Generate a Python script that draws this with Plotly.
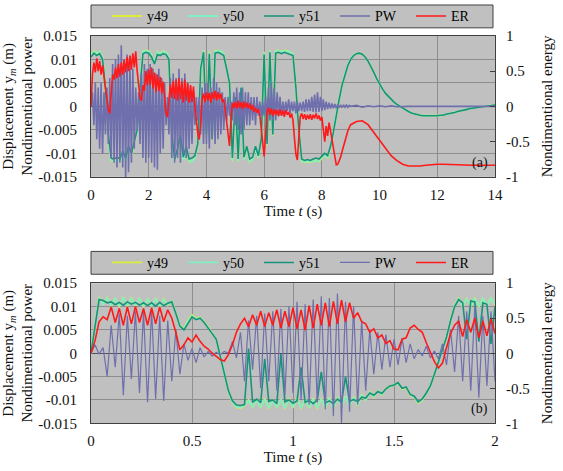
import numpy as np
import plotly.graph_objects as go

# ---------------- data : panel (a) ----------------
t_a = np.round(np.arange(0, 14.0001, 0.1), 2)                      # grid for y49/y50/y51
t_a_pw = np.round(np.concatenate([np.arange(0, 9.0001, 0.05),
                                  np.arange(9.2, 14.0001, 0.2)]), 2)  # grid for PW / ER

y51_a = [0.0105, 0.0113, 0.0108, 0.0112, 0.0100, 0.0040, -0.0060, -0.0110, -0.0112, -0.0108,
         -0.0112, -0.0095, -0.0110, -0.0085, -0.0100, -0.0075, -0.0050, 0.0040, 0.0112, 0.0115,
         0.0113, 0.0105, 0.0090, 0.0110, 0.0108, 0.0112, 0.0110, 0.0100, -0.0060, -0.0112,
         -0.0090, -0.0060, -0.0108, -0.0085, -0.0112, -0.0110, -0.0105, -0.0080, 0.0080, 0.0115,
         -0.0060, 0.0112, -0.0070, 0.0113, 0.0115, 0.0112, 0.0108, 0.0080, 0.0050, -0.0110,
         0.0020, -0.0112, 0.0040, -0.0108, -0.0085, -0.0112, -0.0108, -0.0085, -0.0105, -0.0070,
         0.0110, -0.0080, 0.0115, -0.0060, 0.0113, 0.0115, 0.0112, 0.0115, 0.0113, 0.0110,
         0.0108, 0.0040, -0.0050, -0.0112, -0.0115, -0.0113, -0.0115, -0.0112, -0.0110, -0.0112,
         -0.0105, -0.0100, -0.0105, -0.0085, -0.0055, -0.0015, 0.0015, 0.0045, 0.0068, 0.0087,
         0.0100, 0.0108, 0.0112, 0.0113, 0.0111, 0.0105, 0.0096, 0.0085, 0.0072, 0.0059,
         0.0047, 0.0037, 0.0028, 0.0021, 0.0015, 0.0009, 0.0004, 0.0000, -0.0004, -0.0008,
         -0.0011, -0.0014, -0.0016, -0.0018, -0.0019, -0.0020, -0.0020, -0.0021, -0.0021, -0.0021,
         -0.0020, -0.0019, -0.0019, -0.0017, -0.0016, -0.0014, -0.0013, -0.0011, -0.0010, -0.0008,
         -0.0007, -0.0005, -0.0004, -0.0003, -0.0002, -0.0001, 0.0000, 0.0001, 0.0002, 0.0002,
         0.0003]

y49_a = [0.0110, 0.0118, 0.0112, 0.0117, 0.0104, 0.0040, -0.0062, -0.0116, -0.0118, -0.0113,
         -0.0118, -0.0098, -0.0115, -0.0088, -0.0104, -0.0078, -0.0052, 0.0042, 0.0117, 0.0119,
         0.0118, 0.0109, 0.0093, 0.0116, 0.0112, 0.0117, 0.0115, 0.0104, -0.0062, -0.0118,
         -0.0093, -0.0062, -0.0114, -0.0088, -0.0118, -0.0116, -0.0110, -0.0083, 0.0082, 0.0119,
         -0.0062, 0.0117, -0.0072, 0.0118, 0.0119, 0.0117, 0.0112, 0.0082, 0.0052, -0.0116,
         0.0021, -0.0118, 0.0041, -0.0113, -0.0088, -0.0118, -0.0113, -0.0088, -0.0110, -0.0072,
         0.0116, -0.0082, 0.0119, -0.0062, 0.0118, 0.0119, 0.0117, 0.0119, 0.0118, 0.0115,
         0.0112, 0.0041, -0.0052, -0.0117, -0.0119, -0.0118, -0.0119, -0.0117, -0.0115, -0.0117,
         -0.0110, -0.0104, -0.0109, -0.0088, -0.0057, -0.0016, 0.0015, 0.0046, 0.0069, 0.0088,
         0.0100, 0.0108, 0.0112, 0.0113, 0.0111, 0.0105, 0.0096, 0.0085, 0.0072, 0.0059,
         0.0047, 0.0037, 0.0028, 0.0021, 0.0015, 0.0009, 0.0004, 0.0000, -0.0004, -0.0008,
         -0.0011, -0.0014, -0.0016, -0.0018, -0.0019, -0.0020, -0.0020, -0.0021, -0.0021, -0.0021,
         -0.0020, -0.0019, -0.0019, -0.0017, -0.0016, -0.0014, -0.0013, -0.0011, -0.0010, -0.0008,
         -0.0007, -0.0005, -0.0004, -0.0003, -0.0002, -0.0001, 0.0000, 0.0001, 0.0002, 0.0002,
         0.0003]

y50_a = [0.0108, 0.0117, 0.0114, 0.0116, 0.0103, 0.0041, -0.0061, -0.0115, -0.0117, -0.0115,
         -0.0117, -0.0097, -0.0116, -0.0087, -0.0103, -0.0077, -0.0051, 0.0041, 0.0116, 0.0118,
         0.0117, 0.0110, 0.0092, 0.0115, 0.0113, 0.0116, 0.0116, 0.0103, -0.0061, -0.0117,
         -0.0092, -0.0061, -0.0115, -0.0087, -0.0117, -0.0117, -0.0109, -0.0082, 0.0081, 0.0118,
         -0.0061, 0.0116, -0.0071, 0.0117, 0.0118, 0.0118, 0.0111, 0.0081, 0.0051, -0.0115,
         0.0020, -0.0117, 0.0040, -0.0114, -0.0087, -0.0117, -0.0114, -0.0087, -0.0109, -0.0071,
         0.0115, -0.0081, 0.0118, -0.0061, 0.0117, 0.0118, 0.0118, 0.0118, 0.0117, 0.0116,
         0.0111, 0.0040, -0.0051, -0.0116, -0.0118, -0.0117, -0.0118, -0.0118, -0.0116, -0.0116,
         -0.0109, -0.0103, -0.0108, -0.0087, -0.0056, -0.0015, 0.0015, 0.0045, 0.0068, 0.0087,
         0.0100, 0.0108, 0.0112, 0.0113, 0.0111, 0.0105, 0.0096, 0.0085, 0.0072, 0.0059,
         0.0047, 0.0037, 0.0028, 0.0021, 0.0015, 0.0009, 0.0004, 0.0000, -0.0004, -0.0008,
         -0.0011, -0.0014, -0.0016, -0.0018, -0.0019, -0.0020, -0.0020, -0.0021, -0.0021, -0.0021,
         -0.0020, -0.0019, -0.0019, -0.0017, -0.0016, -0.0014, -0.0013, -0.0011, -0.0010, -0.0008,
         -0.0007, -0.0005, -0.0004, -0.0003, -0.0002, -0.0001, 0.0000, 0.0001, 0.0002, 0.0002,
         0.0003]

pw_a = [0.0, 0.003, -0.004, 0.005, -0.007, 0.004, -0.009, 0.005, -0.010, 0.003,
        -0.006, 0.004, -0.008, 0.006, -0.011, 0.009, -0.012, 0.010, -0.013, 0.011,
        -0.012, 0.013, -0.013, 0.010, -0.015, 0.011, -0.014, 0.009, -0.012, 0.008,
        -0.009, 0.004, -0.005, 0.003, -0.008, 0.007, -0.011, 0.009, -0.012, 0.008,
        -0.011, 0.009, -0.012, 0.008, -0.013, 0.007, -0.0135, 0.008, -0.010, 0.006,
        -0.009, 0.005, -0.004, 0.002, -0.006, 0.006, -0.011, 0.007, -0.012, 0.006,
        -0.011, 0.008, -0.012, 0.006, -0.010, 0.007, -0.011, 0.005, -0.009, 0.004,
        -0.008, 0.003, -0.004, 0.002, -0.003, 0.002, -0.006, 0.004, -0.008, 0.005,
        -0.008, 0.005, -0.009, 0.004, -0.007, 0.006, -0.008, 0.005, -0.007, 0.004,
        -0.006, 0.003, -0.005, 0.002, -0.003, 0.002, -0.002, 0.001, -0.003, 0.003,
        -0.004, 0.004, -0.005, 0.003, -0.006, 0.004, -0.005, 0.003, -0.004, 0.003,
        -0.004, 0.002, -0.003, 0.002, -0.004, 0.002, -0.002, 0.001, -0.002, 0.001,
        -0.002, 0.002, -0.003, 0.004, -0.003, 0.005, -0.003, 0.004, -0.003, 0.003,
        -0.002, 0.002, -0.002, 0.001, -0.0015, 0.001, -0.001, 0.0015, -0.0015, 0.001,
        -0.001, 0.001, -0.0015, 0.001, -0.001, 0.0008, -0.001, 0.001, -0.0012, 0.0015,
        -0.001, 0.0015, -0.001, 0.002, -0.0012, 0.0025, -0.0013, 0.003, -0.0012, 0.002,
        -0.001, 0.0015, -0.0008, 0.001, -0.0006, 0.0008, -0.0005, 0.0006, -0.0004, 0.0005,
        -0.0004, 0.0004, -0.0003, 0.0003, -0.0003, 0.0003, -0.0002, 0.0003, -0.0002, 0.0002,
        0.0,
        0.0002, -0.0002, 0.0001, -0.0001, 0.0001, -0.0001, 0.0001, -0.0001, 0.0, 0.0,
        0.0, 0.0, 0.0, 0.0, 0.0, 0.0, 0.0, 0.0, 0.0, 0.0, 0.0, 0.0, 0.0, 0.0, 0.0]

er_a = [0.0, 0.45, 0.62, 0.48, 0.68, 0.5, 0.64, 0.45, 0.58, 0.42,
        0.3, 0.12, -0.05, -0.1, 0.2, 0.45, 0.38, 0.55, 0.4, 0.6,
        0.42, 0.62, 0.45, 0.66, 0.48, 0.7, 0.5, 0.72, 0.52, 0.75,
        0.55, 0.78, 0.5, 0.25, 0.12, 0.08, 0.3, 0.22, 0.5, 0.3,
        0.52, 0.3, 0.55, 0.25, 0.48, 0.2, 0.45, 0.22, 0.42, 0.18,
        0.35, 0.12, -0.1, -0.15, 0.05, 0.32, 0.12, 0.36, 0.1, 0.38,
        0.08, 0.4, 0.1, 0.35, 0.05, 0.38, 0.08, 0.33, 0.05, 0.3,
        0.06, 0.28, 0.0, -0.2, -0.38, -0.47, -0.25, 0.1, 0.18, 0.06,
        0.2, 0.08, 0.19, 0.05, 0.2, 0.1, 0.22, 0.08, 0.2, 0.1,
        0.18, 0.06, 0.1, -0.05, -0.25, -0.45, -0.56, -0.2, 0.05, -0.02,
        0.06, -0.03, 0.08, -0.02, 0.06, -0.04, 0.07, -0.02, 0.05, -0.03,
        0.04, -0.05, 0.02, -0.08, -0.02, -0.09, -0.04, -0.12, -0.3, -0.55,
        -0.71, -0.4, -0.08, -0.02, -0.12, -0.03, -0.14, -0.04, -0.12, -0.05,
        -0.14, -0.04, -0.13, -0.06, -0.15, -0.05, -0.12, -0.08, -0.16, -0.1,
        -0.2, -0.45, -0.68, -0.76, -0.45, -0.15, -0.1, -0.18, -0.11, -0.19,
        -0.12, -0.18, -0.11, -0.19, -0.12, -0.17, -0.1, -0.18, -0.13, -0.2,
        -0.15, -0.3, -0.5, -0.28, -0.42, -0.23, -0.35, -0.5, -0.65, -0.77,
        -0.83, -0.82, -0.78, -0.72, -0.64, -0.56, -0.48, -0.41, -0.35, -0.3,
        -0.26,
        -0.215, -0.205, -0.26, -0.37, -0.48, -0.6, -0.7, -0.77, -0.82, -0.845,
        -0.85, -0.845, -0.835, -0.825, -0.82, -0.82, -0.825, -0.83, -0.835, -0.835,
        -0.835, -0.835, -0.835, -0.835, -0.835]

# ---------------- data : panel (b) ----------------
t_b = np.round(np.arange(0, 2.0001, 0.02), 2)

y51_b = [0.0, 0.0060, 0.0115, 0.0113, 0.0108, 0.0110, 0.0104, 0.0109, 0.0103, 0.0110,
         0.0105, 0.0109, 0.0103, 0.0108, 0.0102, 0.0108, 0.0101, 0.0109, 0.0102, 0.0107,
         0.0110, 0.0085, 0.0058, 0.0050, 0.0065, 0.0078, 0.0072, 0.0075, 0.0066, 0.0055,
         0.0042, 0.0030, -0.0005, -0.0045, -0.0080, -0.0102, -0.0111, -0.0112, -0.0110, 0.0010,
         -0.0105, -0.0098, -0.0106, -0.0012, -0.0103, -0.0100, -0.0108, -0.0002, -0.0104, -0.0100,
         -0.0107, -0.0102, -0.0030, -0.0105, -0.0101, -0.0108, -0.0100, -0.0040, -0.0106, -0.0102,
         -0.0108, -0.0098, -0.0105, -0.0050, -0.0103, -0.0099, -0.0104, -0.0094, -0.0096, -0.0085,
         -0.0090, -0.0082, -0.0086, -0.0076, -0.0070, -0.0068, -0.0063, -0.0075, -0.0072, -0.0088,
         -0.0092, -0.0104, -0.0098, -0.0085, -0.0070, -0.0045, -0.0018, 0.0005, 0.0035, 0.0070,
         0.0100, 0.0115, 0.0108, 0.0030, 0.0112, 0.0110, 0.0025, 0.0108, 0.0105, 0.0020,
         0.0100]

y49_b = [0.0, 0.0062, 0.0120, 0.0106, 0.0119, 0.0102, 0.0118, 0.0100, 0.0120, 0.0101,
         0.0119, 0.0102, 0.0118, 0.0100, 0.0117, 0.0101, 0.0118, 0.0100, 0.0116, 0.0103,
         0.0113, 0.0087, 0.0060, 0.0052, 0.0070, 0.0082, 0.0074, 0.0077, 0.0067, 0.0056,
         0.0043, 0.0030, -0.0005, -0.0046, -0.0082, -0.0105, -0.0116, -0.0118, -0.0112, -0.0100,
         -0.0116, -0.0098, -0.0117, -0.0097, -0.0118, -0.0099, -0.0117, -0.0098, -0.0118, -0.0097,
         -0.0117, -0.0096, -0.0118, -0.0098, -0.0117, -0.0096, -0.0118, -0.0097, -0.0117, -0.0095,
         -0.0118, -0.0094, -0.0114, -0.0092, -0.0113, -0.0093, -0.0112, -0.0088, -0.0101, -0.0083,
         -0.0094, -0.0080, -0.0089, -0.0075, -0.0072, -0.0067, -0.0064, -0.0077, -0.0073, -0.0090,
         -0.0094, -0.0107, -0.0100, -0.0086, -0.0071, -0.0046, -0.0018, 0.0006, 0.0036, 0.0072,
         0.0103, 0.0119, 0.0100, 0.0118, 0.0101, 0.0119, 0.0100, 0.0118, 0.0102, 0.0119,
         0.0104]

y50_b = [0.0, 0.0061, 0.0119, 0.0105, 0.0118, 0.0103, 0.0117, 0.0101, 0.0119, 0.0102,
         0.0118, 0.0103, 0.0117, 0.0101, 0.0116, 0.0102, 0.0117, 0.0101, 0.0115, 0.0104,
         0.0112, 0.0086, 0.0059, 0.0051, 0.0068, 0.0080, 0.0073, 0.0076, 0.0066, 0.0055,
         0.0042, 0.0030, -0.0005, -0.0045, -0.0081, -0.0104, -0.0115, -0.0117, -0.0111, -0.0101,
         -0.0115, -0.0099, -0.0116, -0.0098, -0.0117, -0.0100, -0.0116, -0.0099, -0.0117, -0.0098,
         -0.0116, -0.0097, -0.0117, -0.0099, -0.0116, -0.0097, -0.0117, -0.0098, -0.0116, -0.0096,
         -0.0117, -0.0095, -0.0113, -0.0093, -0.0112, -0.0094, -0.0111, -0.0089, -0.0100, -0.0084,
         -0.0093, -0.0081, -0.0088, -0.0076, -0.0071, -0.0068, -0.0064, -0.0076, -0.0072, -0.0089,
         -0.0093, -0.0106, -0.0099, -0.0086, -0.0070, -0.0045, -0.0018, 0.0005, 0.0035, 0.0071,
         0.0102, 0.0118, 0.0101, 0.0117, 0.0102, 0.0118, 0.0101, 0.0117, 0.0103, 0.0118,
         0.0105]

pw_b = [0.0, 0.0018, -0.0002, 0.0012, -0.0050, 0.0060, -0.0030, 0.0085, -0.0090, 0.0080,
        -0.0055, 0.0090, -0.0085, 0.0088, -0.0105, 0.0092, -0.0098, 0.0080, -0.0102, 0.0070,
        -0.0060, 0.0050, -0.0045, 0.0020, -0.0015, 0.0010, -0.0020, 0.0012, -0.0008, 0.0004,
        -0.0006, 0.0002, -0.0003, 0.0004, 0.0000, 0.0025, -0.0010, 0.0045, -0.0060, 0.0070,
        -0.0035, 0.0080, -0.0075, 0.0085, -0.0060, 0.0090, -0.0080, 0.0095, -0.0090, 0.0100,
        -0.0085, 0.0110, -0.0100, 0.0105, -0.0110, 0.0115, -0.0105, 0.0122, -0.0120, 0.0118,
        -0.0135, 0.0128, -0.0150, 0.0110, -0.0125, 0.0100, -0.0110, 0.0070, -0.0080, 0.0050,
        -0.0045, 0.0045, -0.0035, 0.0040, -0.0030, 0.0030, -0.0025, 0.0032, -0.0020, 0.0020,
        -0.0012, 0.0008, -0.0006, 0.0015, -0.0010, 0.0005, -0.0012, 0.0020, -0.0025, 0.0050,
        -0.0040, 0.0080, -0.0060, 0.0090, -0.0080, 0.0100, -0.0095, 0.0080, -0.0070, 0.0090,
        -0.0060]

er_b = [0.0, 0.18, 0.45, 0.52, 0.48, 0.66, 0.44, 0.64, 0.4, 0.66,
        0.42, 0.67, 0.44, 0.64, 0.4, 0.65, 0.42, 0.66, 0.45, 0.62,
        0.5, 0.3, 0.05, 0.12, 0.22, 0.16, 0.26, 0.17, 0.1, 0.06,
        0.0, -0.04, -0.09, -0.11, -0.02, 0.12, 0.3, 0.42, 0.5, 0.38,
        0.55, 0.4, 0.6, 0.38, 0.58, 0.4, 0.62, 0.36, 0.6, 0.38,
        0.65, 0.35, 0.62, 0.33, 0.68, 0.36, 0.7, 0.4, 0.72, 0.38,
        0.74, 0.42, 0.76, 0.45, 0.72, 0.5, 0.58, 0.45, 0.42, 0.3,
        0.35, 0.22, 0.26, 0.14, 0.18, 0.06, 0.05, 0.2, 0.22, 0.36,
        0.4, 0.34, 0.3, 0.15, 0.02, -0.12, -0.21, -0.14, 0.08, 0.28,
        0.4, 0.46, 0.24, 0.48, 0.3, 0.5, 0.22, 0.46, 0.25, 0.5,
        0.28]

for name, tt, vv in [("y51_a", t_a, y51_a), ("y49_a", t_a, y49_a), ("y50_a", t_a, y50_a),
                     ("pw_a", t_a_pw, pw_a), ("er_a", t_a_pw, er_a),
                     ("y51_b", t_b, y51_b), ("y49_b", t_b, y49_b), ("y50_b", t_b, y50_b),
                     ("pw_b", t_b, pw_b), ("er_b", t_b, er_b)]:
    if len(tt) != len(vv):
        raise ValueError(f"{name}: {len(tt)} times vs {len(vv)} values")

left_tickvals = [-0.015, -0.01, -0.005, 0, 0.005, 0.01, 0.015]
left_ticktext = ["-0.015", "-0.01", "-0.005", "0", "0.005", "0.01", "0.015"]
right_tickvals = [-1, -0.5, 0, 0.5, 1]
right_ticktext = ["-1", "-0.5", "0", "0.5", "1"]
series_names = ["y49", "y50", "y51", "PW", "ER"]
panel_labels = ["(a)", "(b)"]

# ---------------- styling ----------------
W, H = 563, 471
FONT = "Times New Roman, Liberation Serif, serif"
TXT = "#111111"
BG = "#c0c0c0"
GRID = "#8e8e8e"
FRAME = "#404040"
COL = {"y49": "#dcee3a", "y50": "#80efc4", "y51": "#17937a", "PW": "#6f6fae", "ER": "#ff1a1a"}

PL, PR = 91, 495
ydom_a = [1 - 175 / H, 1 - 33 / H]
ydom_b = [1 - 423 / H, 1 - 282 / H]

fig = go.Figure()

def add_panel(t_y, y49, y50, y51, t_pw, pw, er, xax, yax, yax2, legend, pw_width):
    wid = {"y49": 1.8, "y50": 1.8, "y51": 1.6, "PW": pw_width, "ER": 1.6}
    data = {"y49": (t_y, y49, yax), "y50": (t_y, y50, yax), "y51": (t_y, y51, yax),
            "PW": (t_pw, pw, yax), "ER": (t_pw, er, yax2)}
    for nm in series_names:
        tt, vv, ya = data[nm]
        fig.add_trace(go.Scatter(x=tt, y=vv, mode="lines", name=nm,
                                 line=dict(color=COL[nm], width=wid[nm]),
                                 xaxis=xax, yaxis=ya, legend=legend,
                                 hoverinfo="skip"))

add_panel(t_a, y49_a, y50_a, y51_a, t_a_pw, pw_a, er_a, "x", "y", "y2", "legend", 1.6)
add_panel(t_b, y49_b, y50_b, y51_b, t_b, pw_b, er_b, "x2", "y3", "y4", "legend2", 1.2)

tickfont = dict(family=FONT, size=15, color=TXT)
titlefont = dict(family=FONT, size=15, color=TXT)

def xaxis(rng, dtick, anchor):
    return dict(domain=[0, 1], range=rng, dtick=dtick, tick0=0, anchor=anchor,
                showgrid=True, gridcolor=GRID, gridwidth=1, zeroline=False,
                showline=True, linecolor=FRAME, linewidth=1, mirror=True,
                ticks="", tickfont=tickfont, ticklabelstandoff=4,
                title=dict(text="Time <i>t</i> (s)", font=titlefont, standoff=2),
                automargin=False, fixedrange=True)

def yleft(dom, anchor):
    return dict(domain=dom, range=[-0.015, 0.015], tickvals=left_tickvals, ticktext=left_ticktext,
                anchor=anchor, showgrid=True, gridcolor=GRID, gridwidth=1,
                zeroline=True, zerolinecolor="#505060", zerolinewidth=1,
                showline=True, linecolor=FRAME, linewidth=1, mirror=True,
                ticks="", tickfont=tickfont, ticklabelstandoff=10,
                title=dict(text="Displacement y<sub><i>m</i></sub> (m)<br>Nondimentional power",
                           font=titlefont, standoff=6),
                automargin=False, fixedrange=True)

def yright(over, anchor):
    return dict(overlaying=over, side="right", anchor=anchor, range=[-1, 1],
                tickvals=right_tickvals, ticktext=right_ticktext,
                showgrid=False, zeroline=False, showline=False,
                ticks="inside", ticklen=5, tickcolor=FRAME, tickwidth=1,
                tickfont=tickfont, ticklabelstandoff=10,
                title=dict(text="Nondimentional energy", font=titlefont, standoff=12),
                automargin=False, fixedrange=True)

legend_common = dict(orientation="h", xanchor="left", yanchor="middle",
                     bgcolor="rgba(0,0,0,0)", borderwidth=0,
                     font=dict(family=FONT, size=14, color="#000000"),
                     entrywidth=31, entrywidthmode="pixels", itemwidth=30,
                     traceorder="normal", itemclick=False, itemdoubleclick=False)

shapes = []
for (top, bot) in [(2, 25), (250, 273)]:
    shapes.append(dict(type="rect", xref="paper", yref="paper",
                       x0=(91 - PL) / (PR - PL), x1=(493 - PL) / (PR - PL),
                       y0=1 - bot / H, y1=1 - top / H,
                       fillcolor=BG, line=dict(color=FRAME, width=1), layer="below"))

annotations = []
for lab, ya in zip(panel_labels, ["y", "y3"]):
    annotations.append(dict(text=lab, xref="x domain" if ya == "y" else "x2 domain",
                            yref=f"{ya} domain", x=0.988, y=0.03,
                            xanchor="right", yanchor="bottom", showarrow=False,
                            font=dict(family=FONT, size=14, color=TXT)))

fig.update_layout(
    width=W, height=H,
    margin=dict(l=PL, r=W - PR, t=0, b=0, pad=0),
    paper_bgcolor="white", plot_bgcolor=BG,
    font=dict(family=FONT, size=15, color=TXT),
    xaxis=xaxis([0, 14], 2, "y"),
    yaxis=yleft(ydom_a, "x"),
    yaxis2=yright("y", "x"),
    xaxis2=xaxis([0, 2], 0.5, "y3"),
    yaxis3=yleft(ydom_b, "x2"),
    yaxis4=yright("y3", "x2"),
    legend=dict(legend_common, x=(107 - PL) / (PR - PL), y=1 - 13.5 / H),
    legend2=dict(legend_common, x=(107 - PL) / (PR - PL), y=1 - 261.5 / H),
    shapes=shapes,
    annotations=annotations,
    showlegend=True,
)

fig.write_html("out.html")
